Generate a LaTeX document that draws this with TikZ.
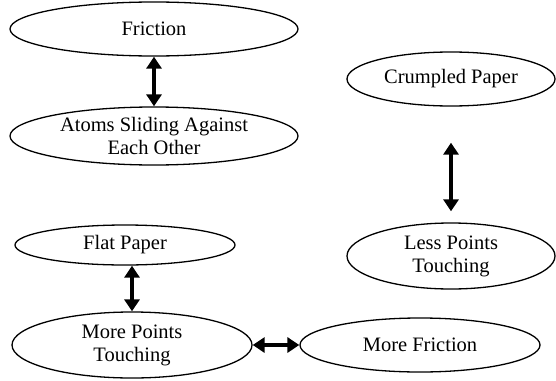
\documentclass[tikz,border=0pt]{standalone}
\usepackage{fontspec}
\setmainfont{Liberation Serif}
\usetikzlibrary{shapes.geometric,arrows.meta}
\tikzset{
  bubble/.style={draw,ellipse,line width=1.3pt,inner sep=0pt,align=center,
    font=\fontsize{20.5}{23}\selectfont},
  link/.style={{Triangle[width=15pt,length=12pt]}-{Triangle[width=15pt,length=12pt]},line width=4pt}
}

\begin{document}
\begin{tikzpicture}[x=1pt,y=-1pt]
  \useasboundingbox (0,0) rectangle (556,380);
  % left column
  \node[bubble,minimum width=288pt,minimum height=54pt] (friction) at (154,29) {Friction};
  \node[bubble,minimum width=288pt,minimum height=58pt] (atoms) at (154,136) {Atoms Sliding Against\\Each Other};
  \node[bubble,minimum width=220pt,minimum height=40pt] (flat) at (125,245) {Flat Paper};
  \node[bubble,minimum width=240pt,minimum height=66pt] (morepts) at (132,345) {More Points\\Touching};
  % right column
  \node[bubble,minimum width=208pt,minimum height=54pt] (crumpled) at (451,79) {Crumpled Paper};
  \node[bubble,minimum width=208pt,minimum height=66pt] (less) at (451,256) {Less Points\\Touching};
  \node[bubble,minimum width=240pt,minimum height=54pt] (morefric) at (420,345) {More Friction};
  % links
  \draw[link] (friction) -- (atoms);
  \draw[link] (morepts.north |- flat.south) -- (morepts.north);
  \draw[link] (morepts) -- (morefric);
  \draw[link] ([yshift=-36pt]crumpled.south) -- ([yshift=11pt]less.north);
\end{tikzpicture}
\end{document}
